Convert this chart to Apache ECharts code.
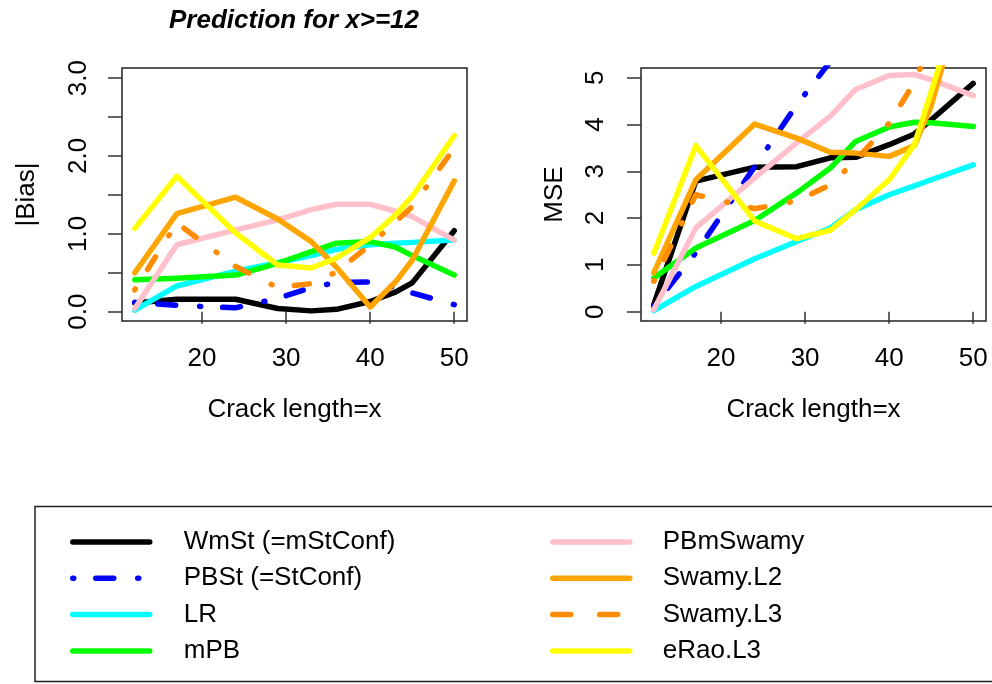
<!DOCTYPE html>
<html>
<head>
<meta charset="utf-8">
<script src="https://cdn.jsdelivr.net/npm/echarts@6/dist/echarts.min.js"></script>
<style>
  html, body { margin: 0; padding: 0; background: #ffffff; }
  #chart { width: 992px; height: 684px; }
</style>
</head>
<body>
<div id="chart"></div>
<script>
// Crack lengths at which each method was evaluated
const crackLength = [12, 17, 24, 29, 33, 36, 40, 43, 45, 50];

// Method names (legend order = drawing order)
const methodNames = ['WmSt (=mStConf)', 'PBSt (=StConf)', 'LR', 'mPB',
                     'PBmSwamy', 'Swamy.L2', 'Swamy.L3', 'eRao.L3'];

// |Bias| of each method
const biasWmSt     = [0.11, 0.16, 0.16, 0.04, 0.01, 0.03, 0.13, 0.25, 0.37, 1.04];
const biasPBSt     = [0.12, 0.08, 0.05, 0.17, 0.31, 0.375, 0.38, 0.31, 0.24, 0.09];
const biasLR       = [0.02, 0.33, 0.52, 0.63, 0.72, 0.80, 0.86, 0.88, 0.89, 0.92];
const biasMPB      = [0.41, 0.43, 0.47, 0.62, 0.77, 0.88, 0.90, 0.83, 0.72, 0.47];
const biasPBmSwamy = [0.04, 0.86, 1.05, 1.18, 1.31, 1.38, 1.38, 1.29, 1.22, 0.92];
const biasSwamyL2  = [0.50, 1.26, 1.47, 1.19, 0.90, 0.57, 0.06, 0.38, 0.66, 1.68];
const biasSwamyL3  = [0.28, 1.14, 0.58, 0.31, 0.36, 0.51, 0.86, 1.15, 1.35, 2.10];
const biasERaoL3   = [1.07, 1.74, 1.01, 0.60, 0.56, 0.69, 0.95, 1.24, 1.48, 2.26];

// MSE of each method (null where the curve has left the plotting range)
const mseWmSt      = [0.15, 2.79, 3.09, 3.10, 3.29, 3.30, 3.57, 3.80, 4.10, 4.88];
const msePBSt      = [0.12, 1.26, 3.10, 4.42, 5.35, null, null, null, null, null];
const mseLR        = [0.02, 0.54, 1.13, 1.50, 1.79, 2.18, 2.50, 2.69, 2.82, 3.14];
const mseMPB       = [0.72, 1.36, 1.95, 2.54, 3.07, 3.64, 3.95, 4.05, 4.04, 3.96];
const msePBmSwamy  = [0.04, 1.79, 2.86, 3.61, 4.18, 4.75, 5.05, 5.07, 4.96, 4.62];
const mseSwamyL2   = [0.83, 2.82, 4.01, 3.71, 3.41, 3.39, 3.32, 3.55, 4.40, 7.60];
const mseSwamyL3   = [0.65, 2.50, 2.20, 2.37, 2.71, 3.23, 4.03, 4.90, 5.75, null];
const mseERaoL3    = [1.25, 3.55, 1.94, 1.56, 1.74, 2.18, 2.82, 3.57, 4.70, 7.60];

// Tick positions and labels
const xTicks = [20, 30, 40, 50];
const biasTicks = [0, 0.5, 1, 1.5, 2, 2.5, 3];
const biasLabels = [0, 1, 2, 3];
const mseTicks = [0, 1, 2, 3, 4, 5];

const biasSeries = [biasWmSt, biasPBSt, biasLR, biasMPB, biasPBmSwamy, biasSwamyL2, biasSwamyL3, biasERaoL3];
const mseSeries = [mseWmSt, msePBSt, mseLR, mseMPB, msePBmSwamy, mseSwamyL2, mseSwamyL3, mseERaoL3];

// Line appearance per method
const methodColors = ['#000000', '#0000ff', '#00ffff', '#00ff00', '#ffc0cb', '#ffa500', '#ff8c00', '#ffff00'];
const methodDash = ['solid', [1, 22, 18, 24], 'solid', 'solid', 'solid', 'solid', [1, 23, 15, 25], 'solid'];

const FONT = '"Liberation Sans", Arial, Helvetica, sans-serif';
const FS = 26;
const LW = 5.5;

function pairs(values) {
  return crackLength.map((x, i) => [x, values[i]]);
}

function makeSeries(valuesList, axisIndex) {
  return valuesList.map((vals, k) => ({
    name: methodNames[k],
    type: 'line',
    xAxisIndex: axisIndex,
    yAxisIndex: axisIndex,
    data: pairs(vals),
    symbol: 'none',
    smooth: false,
    clip: true,
    connectNulls: false,
    silent: true,
    animation: false,
    lineStyle: { color: methodColors[k], width: LW, type: methodDash[k], cap: 'round', join: 'round' },
    itemStyle: { color: methodColors[k] },
    emphasis: { disabled: true }
  }));
}

function xAxisFor(gridIndex) {
  return {
    type: 'value', gridIndex: gridIndex,
    min: 10.48, max: 51.52,
    axisLine: { show: false },
    splitLine: { show: false },
    axisTick: { show: true, customValues: xTicks, length: 12, lineStyle: { color: '#333', width: 1.5 } },
    axisLabel: { customValues: xTicks, fontSize: FS, color: '#000', fontFamily: FONT, margin: 25 },
    name: 'Crack length=x', nameLocation: 'middle', nameGap: 76,
    nameTextStyle: { fontSize: FS, color: '#000', fontFamily: FONT }
  };
}

function legendFor(items, left, textPad) {
  return {
    data: items,
    orient: 'vertical', left: left, top: 529, padding: 0,
    itemWidth: 77, itemHeight: 25, itemGap: 10.3,
    selectedMode: false,
    itemStyle: { opacity: 0 },
    lineStyle: { width: LW },
    textStyle: { fontSize: FS, color: '#000', fontFamily: FONT, padding: [0, 0, 0, textPad] }
  };
}

const option = {
  backgroundColor: '#ffffff',
  animation: false,
  title: {
    text: 'Prediction for x>=12',
    left: 294, top: 8, padding: 0,
    textAlign: 'center',
    textStyle: { fontSize: 26, fontWeight: 'bold', fontStyle: 'italic', color: '#000', fontFamily: FONT }
  },
  grid: [
    { left: 122, top: 68, width: 345, height: 253, show: true, borderColor: '#222', borderWidth: 1.5, backgroundColor: 'transparent' },
    { left: 641, top: 68, width: 345, height: 253, show: true, borderColor: '#222', borderWidth: 1.5, backgroundColor: 'transparent' }
  ],
  xAxis: [xAxisFor(0), xAxisFor(1)],
  yAxis: [
    {
      type: 'value', gridIndex: 0, min: -0.12, max: 3.13,
      axisLine: { show: false }, splitLine: { show: false },
      axisTick: { show: true, customValues: biasTicks, length: 14, lineStyle: { color: '#333', width: 1.5 } },
      axisLabel: { customValues: biasLabels, rotate: 90, fontSize: FS, color: '#000', fontFamily: FONT, margin: 30,
                   formatter: v => Number(v).toFixed(1) },
      name: '|Bias|', nameLocation: 'middle', nameGap: 82,
      nameTextStyle: { fontSize: FS, color: '#000', fontFamily: FONT }
    },
    {
      type: 'value', gridIndex: 1, min: -0.2, max: 5.21,
      axisLine: { show: false }, splitLine: { show: false },
      axisTick: { show: true, customValues: mseTicks, length: 14, lineStyle: { color: '#333', width: 1.5 } },
      axisLabel: { customValues: mseTicks, rotate: 90, fontSize: FS, color: '#000', fontFamily: FONT, margin: 32,
                   formatter: v => String(Math.round(v)) },
      name: 'MSE', nameLocation: 'middle', nameGap: 73,
      nameTextStyle: { fontSize: FS, color: '#000', fontFamily: FONT }
    }
  ],
  legend: [
    legendFor(methodNames.slice(0, 4), 70, 29),
    legendFor([
      { name: methodNames[4] },
      { name: methodNames[5] },
      { name: methodNames[6], lineStyle: { type: [18, 29] } },
      { name: methodNames[7] }
    ], 550, 28)
  ],
  graphic: [
    {
      type: 'rect', silent: true, z: 0,
      shape: { x: 35, y: 506.5, width: 975, height: 175 },
      style: { fill: 'none', stroke: '#222', lineWidth: 1.5 }
    }
  ],
  series: [].concat(makeSeries(biasSeries, 0), makeSeries(mseSeries, 1))
};

const chart = echarts.init(document.getElementById('chart'), null, { renderer: 'canvas' });
chart.setOption(option);
</script>
</body>
</html>
